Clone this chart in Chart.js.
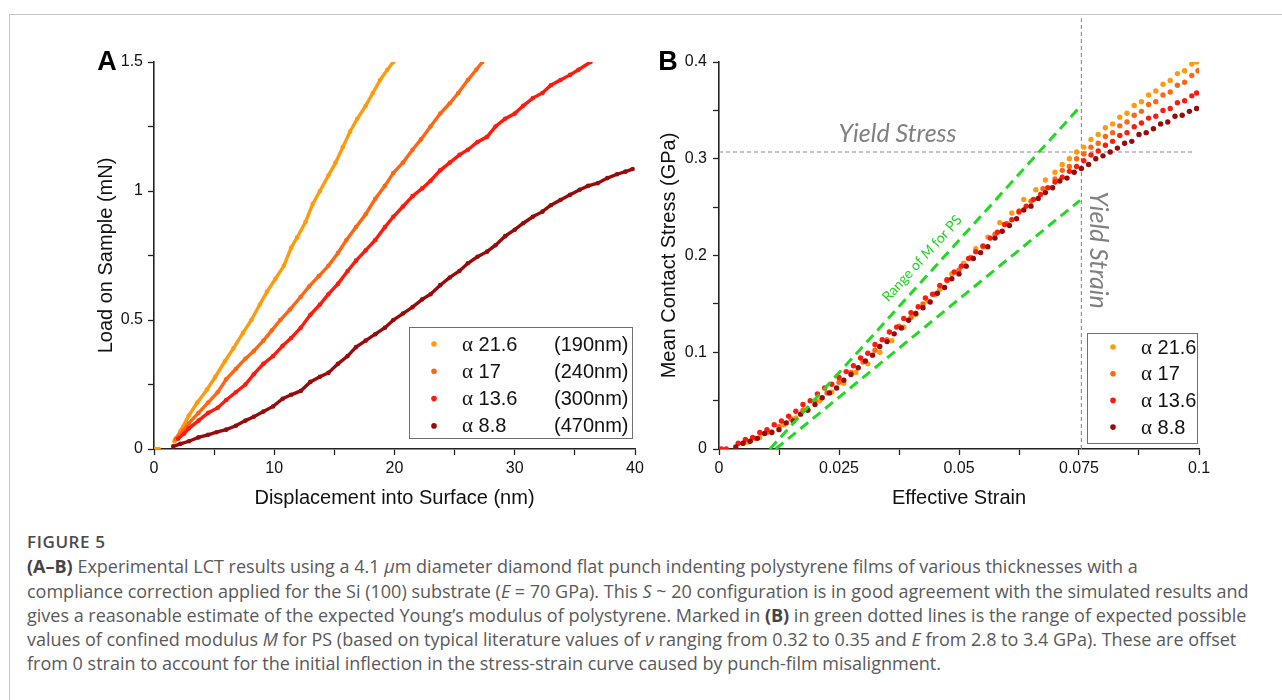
<!DOCTYPE html>
<html><head><meta charset="utf-8">
<script src="https://cdn.jsdelivr.net/npm/chart.js@4.4.0/dist/chart.umd.min.js"></script>
<style>
html,body{margin:0;padding:0;background:#fff;width:1282px;height:700px;overflow:hidden;position:relative;}
#frame{position:absolute;left:9px;top:14px;width:1400px;height:800px;border-left:1px solid #c4c4c4;border-top:1px solid #c4c4c4;}
#cA{position:absolute;left:0;top:0;}
#cB{position:absolute;left:640px;top:0;}
#cap{position:absolute;left:27px;top:530px;font-family:"Open Sans",Lato,sans-serif;color:#595959;font-size:18px;line-height:24.3px;white-space:nowrap;}
#cap .fig{color:#4a4a4a;font-weight:600;font-size:17px;letter-spacing:0.6px;}
#cap b{color:#444;font-weight:700;}
</style></head>
<body>
<div id="frame"></div>
<canvas id="cA" width="660" height="520"></canvas>
<canvas id="cB" width="642" height="520"></canvas>
<div id="cap">
<div class="fig">FIGURE 5</div>
<div><b>(A–B)</b> Experimental LCT results using a 4.1 <i>μ</i>m diameter diamond flat punch indenting polystyrene films of various thicknesses with a</div>
<div>compliance correction applied for the Si (100) substrate (<i>E</i> = 70 GPa). This <i>S</i> ~ 20 configuration is in good agreement with the simulated results and</div>
<div>gives a reasonable estimate of the expected Young’s modulus of polystyrene. Marked in <b>(B)</b> in green dotted lines is the range of expected possible</div>
<div>values of confined modulus <i>M</i> for PS (based on typical literature values of <i>ν</i> ranging from 0.32 to 0.35 and <i>E</i> from 2.8 to 3.4 GPa). These are offset</div>
<div>from 0 strain to account for the initial inflection in the stress-strain curve caused by punch-film misalignment.</div>
</div>
<script>
// ---------- tick labels / text ----------
const aXTicks = ['0','10','20','30','40'];
const aYTicks = ['0','0.5','1','1.5'];
const bXTicks = ['0','0.025','0.05','0.075','0.1'];
const bYTicks = ['0','0.1','0.2','0.3','0.4'];
const alphaValues = ['21.6','17','13.6','8.8'];
const thickness = ['(190nm)','(240nm)','(300nm)','(470nm)'];

// ---------- Panel A: displacement (nm), load (mN) ----------
const a216 = [[0.1,0],[0.4,0],[1,null],
 [1.7,0.03],[2.2,0.07],[2.9,0.13],[3.6,0.18],[4.4,0.23],[5.1,0.28],[5.9,0.34],[6.6,0.39],[7.4,0.45],[8.1,0.50],
 [8.8,0.56],[9.4,0.61],[10.1,0.66],[10.8,0.71],[11.4,0.78],[11.9,0.82],[12.6,0.88],[13.2,0.95],[13.8,1.00],
 [14.5,1.06],[15.1,1.11],[15.7,1.17],[16.3,1.23],[16.9,1.28],[17.6,1.33],[18.2,1.38],[18.8,1.43],[19.4,1.47],[19.9,1.50]];
const a17 = [[1.8,0.04],[2.4,0.07],[2.9,0.10],[3.7,0.14],[4.5,0.18],[5.3,0.22],[6.0,0.27],[6.8,0.31],[7.6,0.35],
 [8.3,0.38],[9.1,0.42],[9.8,0.46],[10.5,0.50],[11.3,0.54],[12.2,0.59],[12.9,0.63],[13.7,0.67],[14.5,0.71],
 [15.3,0.76],[16.0,0.81],[16.8,0.86],[17.6,0.91],[18.4,0.97],[19.2,1.02],[19.9,1.07],[20.7,1.11],[21.5,1.16],
 [22.2,1.20],[23.0,1.25],[23.8,1.30],[24.6,1.34],[25.3,1.38],[26.1,1.43],[26.8,1.47],[27.3,1.50]];
const a136 = [[2.0,0.04],[2.5,0.06],[2.9,0.08],[3.7,0.11],[4.5,0.14],[5.3,0.16],[6.0,0.19],[6.8,0.22],[7.6,0.25],
 [8.3,0.29],[9.1,0.33],[9.9,0.36],[10.7,0.40],[11.4,0.43],[12.2,0.47],[13.0,0.52],[13.8,0.56],[14.5,0.60],
 [15.3,0.64],[16.1,0.69],[16.8,0.73],[17.6,0.77],[18.4,0.81],[19.2,0.86],[19.9,0.90],[20.7,0.94],[21.5,0.98],
 [22.3,1.01],[23.0,1.04],[23.8,1.08],[24.6,1.11],[25.4,1.14],[26.1,1.16],[26.9,1.19],[27.7,1.21],[28.4,1.25],
 [29.2,1.28],[30.0,1.30],[30.7,1.33],[31.5,1.36],[32.3,1.38],[33.0,1.41],[33.8,1.43],[34.6,1.45],[35.3,1.47],[36.3,1.50]];
const a88 = [[1.6,0.01],[2.2,0.02],[2.9,0.03],[3.7,0.045],[4.5,0.055],[5.2,0.065],[6.0,0.075],[6.8,0.09],[7.6,0.11],
 [8.3,0.125],[9.1,0.145],[9.9,0.165],[10.7,0.195],[11.4,0.21],[12.2,0.225],[13.0,0.26],[13.8,0.28],[14.5,0.295],
 [15.3,0.33],[16.1,0.36],[16.8,0.395],[17.6,0.42],[18.4,0.445],[19.2,0.47],[19.9,0.50],[20.7,0.525],[21.5,0.55],
 [22.3,0.58],[23.0,0.60],[23.8,0.635],[24.6,0.665],[25.4,0.69],[26.1,0.72],[26.9,0.745],[27.7,0.765],[28.4,0.79],
 [29.2,0.825],[30.0,0.85],[30.7,0.875],[31.5,0.90],[32.3,0.92],[33.0,0.945],[33.8,0.965],[34.6,0.985],[35.4,1.005],
 [36.1,1.02],[36.9,1.03],[37.7,1.05],[38.5,1.065],[39.2,1.075],[39.8,1.085]];

// ---------- Panel B: effective strain, mean contact stress (GPa) ----------
const b216 = [[0.006,0.007],[0.0085,0.012],[0.011,0.018],[0.0135,0.025],[0.016,0.032],[0.0185,0.041],[0.021,0.050],
 [0.0235,0.059],[0.026,0.068],[0.0285,0.079],[0.031,0.088],[0.0335,0.100],[0.036,0.112],[0.0385,0.126],[0.041,0.139],
 [0.0435,0.153],[0.046,0.165],[0.0485,0.181],[0.051,0.192],[0.0535,0.207],[0.056,0.219],[0.0585,0.234],[0.061,0.244],
 [0.0635,0.258],[0.066,0.268],[0.068,0.278],[0.070,0.286],[0.0715,0.294],[0.073,0.300],[0.0745,0.307],[0.076,0.312],
 [0.0775,0.320],[0.079,0.325],[0.0805,0.332],[0.082,0.336],[0.0835,0.343],[0.085,0.347],[0.0865,0.355],[0.088,0.359],
 [0.0895,0.366],[0.091,0.370],[0.0925,0.377],[0.094,0.381],[0.0955,0.388],[0.097,0.391],[0.0985,0.398],[0.0995,0.400]];
const b17 = [[0.005,0.006],[0.0075,0.011],[0.010,0.017],[0.0125,0.023],[0.015,0.031],[0.0175,0.040],[0.020,0.050],
 [0.0225,0.058],[0.025,0.069],[0.0275,0.079],[0.030,0.090],[0.0325,0.102],[0.035,0.113],[0.0375,0.127],[0.040,0.136],
 [0.0425,0.150],[0.045,0.160],[0.0475,0.174],[0.050,0.185],[0.0525,0.198],[0.055,0.209],[0.0575,0.222],[0.060,0.233],
 [0.0625,0.246],[0.065,0.256],[0.0675,0.269],[0.070,0.279],[0.0715,0.288],[0.073,0.292],[0.0745,0.300],[0.076,0.305],
 [0.0775,0.312],[0.079,0.316],[0.0805,0.323],[0.082,0.327],[0.0835,0.334],[0.085,0.338],[0.0865,0.345],[0.088,0.349],
 [0.0895,0.356],[0.091,0.359],[0.0925,0.366],[0.094,0.369],[0.0955,0.376],[0.097,0.379],[0.0985,0.386],[0.0998,0.391]];
const b136 = [[0.0005,0],[0.0015,0],[0.004,0.006],[0.0055,0.010],[0.007,0.012],[0.0085,0.017],[0.010,0.020],
 [0.0115,0.025],[0.013,0.029],[0.0145,0.034],[0.016,0.039],[0.0175,0.046],[0.019,0.050],[0.0205,0.057],[0.022,0.063],
 [0.0235,0.067],[0.025,0.074],[0.0265,0.080],[0.028,0.086],[0.0295,0.094],[0.031,0.099],[0.0325,0.108],[0.034,0.113],
 [0.0355,0.121],[0.037,0.126],[0.0385,0.135],[0.040,0.141],[0.0415,0.147],[0.043,0.156],[0.0445,0.160],[0.046,0.169],
 [0.0475,0.175],[0.049,0.183],[0.0505,0.189],[0.052,0.197],[0.0535,0.204],[0.055,0.210],[0.0565,0.218],[0.058,0.224],
 [0.0595,0.232],[0.061,0.237],[0.0625,0.245],[0.064,0.251],[0.0655,0.258],[0.067,0.263],[0.0685,0.270],[0.070,0.276],
 [0.0715,0.281],[0.073,0.287],[0.0745,0.292],[0.076,0.298],[0.0775,0.304],[0.079,0.308],[0.0805,0.314],[0.082,0.318],
 [0.0835,0.324],[0.085,0.327],[0.0865,0.333],[0.088,0.337],[0.0895,0.342],[0.091,0.344],[0.0925,0.350],[0.094,0.352],
 [0.0955,0.358],[0.097,0.360],[0.0985,0.365],[0.0995,0.368]];
const b88 = [[0.0035,0.002],[0.005,0.006],[0.0065,0.008],[0.008,0.011],[0.0095,0.016],[0.011,0.017],[0.0125,0.020],
 [0.014,0.027],[0.0155,0.029],[0.017,0.036],[0.0185,0.040],[0.020,0.046],[0.0215,0.053],[0.023,0.058],[0.0245,0.063],
 [0.026,0.071],[0.0275,0.077],[0.029,0.084],[0.0305,0.091],[0.032,0.097],[0.0335,0.106],[0.035,0.111],[0.0365,0.119],
 [0.038,0.125],[0.0395,0.133],[0.041,0.140],[0.0425,0.146],[0.044,0.152],[0.0455,0.161],[0.047,0.167],[0.0485,0.176],
 [0.050,0.181],[0.0515,0.189],[0.053,0.197],[0.0545,0.203],[0.056,0.209],[0.0575,0.218],[0.059,0.225],[0.0605,0.231],
 [0.062,0.238],[0.0635,0.247],[0.065,0.251],[0.0665,0.259],[0.068,0.265],[0.0695,0.270],[0.071,0.277],[0.0725,0.280],
 [0.074,0.286],[0.0755,0.290],[0.077,0.294],[0.0785,0.300],[0.080,0.303],[0.0815,0.307],[0.083,0.311],[0.0845,0.316],
 [0.086,0.318],[0.0875,0.325],[0.089,0.327],[0.0905,0.331],[0.092,0.336],[0.0935,0.338],[0.095,0.344],[0.0965,0.345],
 [0.098,0.349],[0.0995,0.352]];
const mHigh = [[0.0106,0],[0.0749,0.352]];
const mLow = [[0.0118,0],[0.0752,0.257]];
const yieldStress = [[0,0.307],[0.0986,0.307]];
const yieldStrain = [[0.0755,0],[0.0755,0.445]];

// ---------- styles ----------
const colors = ['#ff9a0c','#ff6612','#ff1a0c','#980b0b'];
const SANS = '"Liberation Sans", Arial, sans-serif';
const pts = arr => arr.map(p => ({x:p[0], y:p[1]}));

function scale(min,max,step,labels,title,isX,fitSize,titlePad,tickPad){
  return {
    type:'linear', min, max,
    ticks:{stepSize:step, autoSkip:false, maxRotation:0, padding:tickPad, color:'#111',
      font:{family:SANS,size:16}, callback:(v,i)=> i%2===0 ? labels[i/2] : ''},
    grid:{drawOnChartArea:false, drawTicks:true, tickLength:6, tickColor:'#222', tickWidth:1.3},
    border:{display:true, color:'#222', width:1.6},
    title:{display:true, text:title, color:'#111', font:{family:SANS,size:20,lineHeight:1.2}, padding:titlePad},
    afterFit(s){ if(isX) s.height=fitSize; else s.width=fitSize; }
  };
}

const decor = {
  id:'decor',
  afterDraw(chart, args, o){
    const {ctx, chartArea:ca} = chart;
    ctx.save();
    ctx.fillStyle='#000'; ctx.textAlign='center'; ctx.textBaseline='middle';
    ctx.font='bold 27px '+SANS;
    ctx.fillText(o.letter, ca.left+o.letterDx, ca.top+1);
    const bx=ca.right+o.box[0], by=ca.bottom+o.box[1], bw=o.box[2], bh=o.box[3];
    ctx.fillStyle='#fff'; ctx.fillRect(bx,by,bw,bh);
    ctx.strokeStyle='#707070'; ctx.lineWidth=1; ctx.strokeRect(bx+0.5,by+0.5,bw,bh);
    ctx.textAlign='left';
    for(let i=0;i<4;i++){
      const ry=by+o.rowTop+i*o.rowGap;
      ctx.fillStyle=colors[i]; ctx.beginPath(); ctx.arc(bx+o.dotDx,ry,2.8,0,Math.PI*2); ctx.fill();
      ctx.fillStyle='#111';
      ctx.font='21px "Liberation Serif", serif';
      ctx.fillText('α', bx+o.textDx, ry+1);
      const aw=ctx.measureText('α').width;
      ctx.font='20px '+SANS;
      ctx.fillText(' '+alphaValues[i], bx+o.textDx+aw, ry+1);
      if(o.col2) ctx.fillText(thickness[i], bx+o.col2, ry+1);
    }
    ctx.restore();
  }
};

const notes = {
  id:'notes',
  afterDatasetsDraw(chart){
    const {ctx, scales:{x,y}} = chart;
    ctx.save();
    ctx.fillStyle='#808080'; ctx.textAlign='center'; ctx.textBaseline='middle';
    ctx.font='italic 25px Lato, "Open Sans", sans-serif';
    ctx.fillText('Yield Stress', x.getPixelForValue(0.0372), y.getPixelForValue(0.3256));
    ctx.save();
    ctx.translate(x.getPixelForValue(0.0790), y.getPixelForValue(0.2057));
    ctx.rotate(Math.PI/2);
    ctx.fillText('Yield Strain',0,0);
    ctx.restore();
    const ang=Math.atan2(y.getPixelForValue(mHigh[1][1])-y.getPixelForValue(mHigh[0][1]),
                         x.getPixelForValue(mHigh[1][0])-x.getPixelForValue(mHigh[0][0]));
    ctx.translate(x.getPixelForValue(0.0423), y.getPixelForValue(0.197));
    ctx.rotate(ang);
    ctx.fillStyle='#1fd11f';
    const f1='14px Lato, "Open Sans", sans-serif', f2='italic 14px Lato, "Open Sans", sans-serif';
    const parts=[['Range of ',f1],['M',f2],[' for PS',f1]];
    let tw=0; parts.forEach(p=>{ctx.font=p[1]; tw+=ctx.measureText(p[0]).width;});
    let cx=-tw/2; ctx.textAlign='left';
    parts.forEach(p=>{ctx.font=p[1]; ctx.fillText(p[0],cx,0); cx+=ctx.measureText(p[0]).width;});
    ctx.restore();
  }
};

function ser(data,i,line,ord){
  return {data:pts(data), showLine:line, borderColor:colors[i], backgroundColor:colors[i], borderWidth:line?3.4:0,
    pointRadius:line?2.3:2.7, pointBorderWidth:0, pointBackgroundColor:colors[i], spanGaps:false, order:ord};
}

new Chart(document.getElementById('cA'), {
  type:'scatter',
  data:{datasets:[ser(a216,0,true,3), ser(a17,1,true,2), ser(a136,2,true,1), ser(a88,3,true,0)]},
  options:{
    responsive:false, animation:false, devicePixelRatio:1,
    layout:{padding:{left:0,top:62,right:25,bottom:0}},
    plugins:{legend:{display:false}, tooltip:{enabled:false},
      decor:{letter:'A', letterDx:-47, box:[-226,-122,223,111], rowTop:17, rowGap:27.3, dotDx:25, textDx:53, col2:145}},
    scales:{
      x:scale(0,40,5,aXTicks,'Displacement into Surface (nm)',true,71,{top:0,bottom:10},4),
      y:scale(0,1.5,0.25,aYTicks,'Load on Sample (mN)',false,154,{top:94,bottom:0},5)
    }
  },
  plugins:[decor]
});

const dash = (data,color,w,d,ord)=>({data:pts(data), showLine:true, borderColor:color, borderWidth:w, borderDash:d,
  pointRadius:0, clip:false, order:ord});

new Chart(document.getElementById('cB'), {
  type:'scatter',
  data:{datasets:[
    dash(mHigh,'#22d822',3,[10,6],0), dash(mLow,'#22d822',3,[10,6],0),
    ser(b88,3,false,1), ser(b136,2,false,2), ser(b17,1,false,3), ser(b216,0,false,4),
    dash(yieldStress,'#8a8a8a',1.1,[4,3],5), dash(yieldStrain,'#8a8a8a',1.1,[4,3],5)
  ]},
  options:{
    responsive:false, animation:false, devicePixelRatio:1,
    layout:{padding:{left:0,top:62,right:83,bottom:0}},
    plugins:{legend:{display:false}, tooltip:{enabled:false},
      decor:{letter:'B', letterDx:-51, box:[-112,-116,110,110], rowTop:14, rowGap:26.7, dotDx:26, textDx:54, col2:0}},
    scales:{
      x:scale(0,0.1,0.0125,bXTicks,'Effective Strain',true,71,{top:0,bottom:10},4),
      y:scale(0,0.4,0.05,bYTicks,'Mean Contact Stress (GPa)',false,79,{top:17,bottom:0},6)
    }
  },
  plugins:[decor, notes]
});
</script>
</body></html>
